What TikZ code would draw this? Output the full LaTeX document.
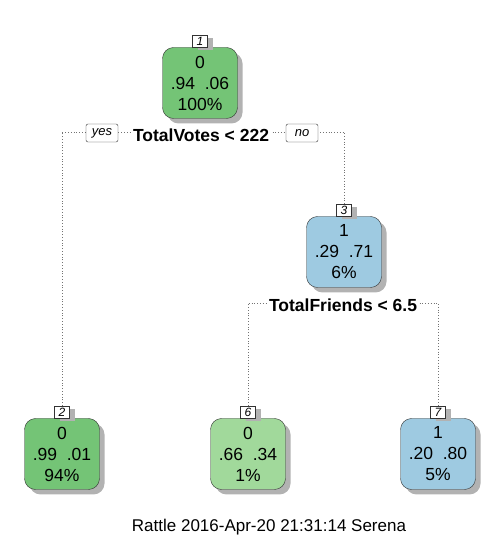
\documentclass[tikz,border=0pt]{standalone}
\usepackage{fontspec}
\setmainfont{Liberation Sans}
\usetikzlibrary{shadows}
\pgfdeclarelayer{background}
\pgfsetlayers{background,main}
\definecolor{darkgreen}{HTML}{74C476}
\definecolor{lightgreen}{HTML}{A1D99B}
\definecolor{lightblue}{HTML}{9ECAE1}
\tikzstyle{leaf}=[draw=black!80, rounded corners=11pt, minimum width=75pt,
	minimum height=71pt, align=center, inner sep=0pt,
	font=\fontsize{17.5}{21}\selectfont,
	drop shadow={shadow xshift=5pt, shadow yshift=-5pt, fill=black!30, opacity=1}]
\tikzstyle{numbox}=[draw=black!80, fill=white, minimum width=15pt,
	minimum height=12pt, inner sep=0pt, font=\fontsize{12}{12}\selectfont\itshape,
	drop shadow={shadow xshift=5pt, shadow yshift=-3pt, fill=black!30, opacity=1}]
\tikzstyle{split}=[fill=white, inner sep=1.5pt, font=\fontsize{17.5}{20}\selectfont\bfseries]
\tikzstyle{answer}=[draw=black!80, fill=white, rounded corners=2pt, minimum width=32pt,
	minimum height=18pt, inner sep=0pt, font=\fontsize{13}{13}\selectfont\itshape]
\tikzstyle{branch}=[draw=black!55, line width=0.8pt, dash pattern=on 0.8pt off 2pt]
\newcommand{\treeNode}[3]{node (n#1) [leaf, fill=#2] {#3}}
\newcommand{\numLabel}[1]{node (l#1) [numbox, anchor=south] at (n#1.north) {#1}}

\begin{document}
\begin{tikzpicture}[x=1pt,y=1pt]
	\useasboundingbox (0,0) rectangle (501,541);

	\path (200,458) \treeNode{1}{darkgreen}{0\\.94\ \ .06\\100\%};
	\path (344,289) \treeNode{3}{lightblue}{1\\.29\ \ .71\\6\%};
	\path (62,87)   \treeNode{2}{darkgreen}{0\\.99\ \ .01\\94\%};
	\path (248,87)  \treeNode{6}{lightgreen}{0\\.66\ \ .34\\1\%};
	\path (438,87)  \treeNode{7}{lightblue}{1\\.20\ \ .80\\5\%};

	\path \numLabel{1};
	\path \numLabel{3};
	\path \numLabel{2};
	\path \numLabel{6};
	\path \numLabel{7};

	% split labels
	\path (201,406) node (s1) [split] {TotalVotes < 222};
	\path (102,408) node (yes) [answer] {yes};
	\path (302,408) node (no) [answer] {no};
	\path (343,236) node (s3) [split] {TotalFriends < 6.5};

	% heights of the branch bars
	\coordinate (b1) at (0,409);
	\coordinate (b3) at (0,238);

	% Draw branches behind the labels
	\begin{pgfonlayer}{background}
		\path [branch] (l2.north) -- (l2.north |- b1) -| (l3.north);
		\path [branch] (l6.north) -- (l6.north |- b3) -| (l7.north);
	\end{pgfonlayer}

	\path (269,14) node (foot) [font=\fontsize{17}{20}\selectfont] {Rattle 2016-Apr-20 21:31:14 Serena};

\end{tikzpicture}
\end{document}
